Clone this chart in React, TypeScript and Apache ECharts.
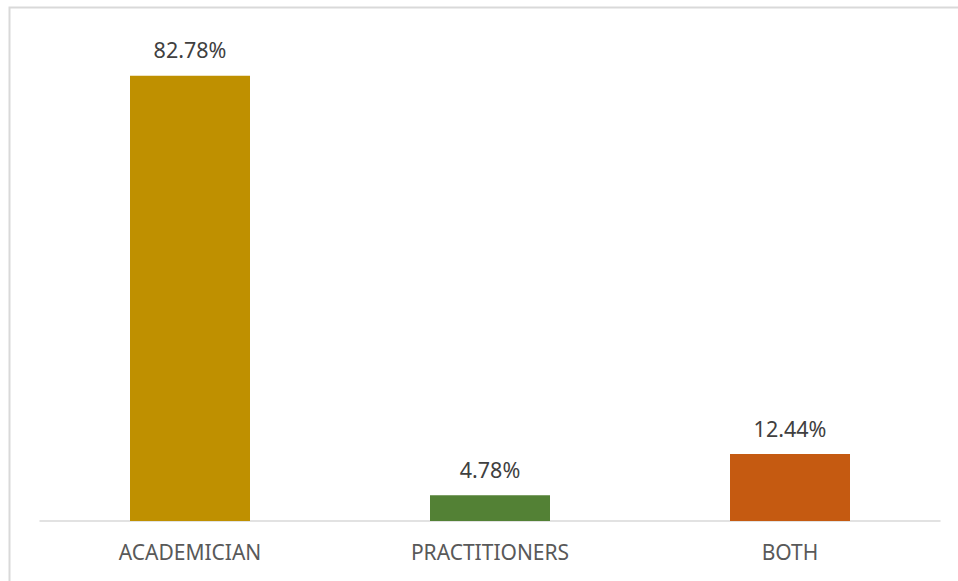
import React, { useEffect, useRef } from "react";
import * as echarts from "echarts";

const categories = ["ACADEMICIAN", "PRACTITIONERS", "BOTH"];
const values = [82.78, 4.78, 12.44];
const barColors = ["#BF9000", "#538135", "#C55A11"];

export default function App() {
  const ref = useRef<HTMLDivElement>(null);
  useEffect(() => {
    if (!ref.current) return;
    const chart = echarts.init(ref.current, null, { renderer: "svg" });
    chart.setOption({
      animation: false,
      backgroundColor: "#ffffff",
      graphic: [
        {
          type: "rect",
          shape: { x: 9.5, y: 7.5, width: 1200, height: 1200 },
          style: { fill: "none", stroke: "#d9d9d9", lineWidth: 2 },
          silent: true,
        },
      ],
      grid: { left: 40, right: 18, top: 37, bottom: 60 },
      xAxis: {
        type: "category",
        data: categories,
        axisLine: { show: true, lineStyle: { color: "#d9d9d9", width: 1.5 } },
        axisTick: { show: false },
        axisLabel: {
          color: "#595959",
          fontFamily: "Noto Sans",
          fontSize: 21,
          margin: 20,
        },
      },
      yAxis: {
        type: "value",
        min: 0,
        max: 90,
        show: false,
        splitLine: { show: false },
      },
      series: [
        {
          type: "bar",
          barWidth: "40%",
          data: values.map((v, i) => ({ value: v, itemStyle: { color: barColors[i] } })),
          label: {
            show: true,
            position: "top",
            distance: 15,
            color: "#404040",
            fontFamily: "Noto Sans",
            fontSize: 21.5,
            formatter: (p: any) => p.value.toFixed(2) + "%",
          },
        },
      ],
    });
    return () => chart.dispose();
  }, []);
  return (
    <div
      ref={ref}
      style={{ position: "fixed", left: 0, top: 0, width: 958, height: 581 }}
    />
  );
}
